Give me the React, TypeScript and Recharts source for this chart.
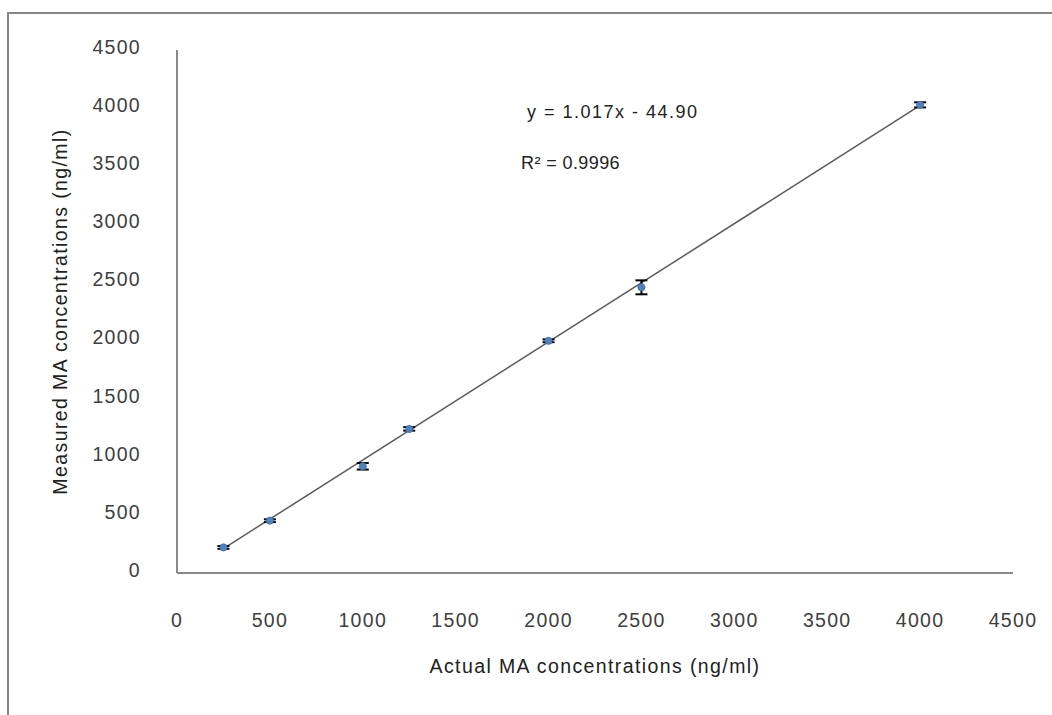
import { ScatterChart, Scatter, XAxis, YAxis, ErrorBar, ReferenceLine } from "recharts";

// measured vs actual MA concentrations (ng/ml)
const actual = [250, 500, 1000, 1250, 2000, 2500, 4000];
const measured = [220, 450, 918, 1240, 1998, 2458, 4028];
const stdDev = [12, 12, 28, 15, 12, 60, 22];

const xTicks = [0, 500, 1000, 1500, 2000, 2500, 3000, 3500, 4000, 4500];
const yTicks = [0, 500, 1000, 1500, 2000, 2500, 3000, 3500, 4000, 4500];

// linear trendline y = 1.017x - 44.90, drawn over the data range
const trendStart = { x: 250, y: 209.4 };
const trendEnd = { x: 4000, y: 4023.1 };

const points = actual.map((x, i) => ({ x, y: measured[i], err: stdDev[i] }));

const font = "'Liberation Sans', Arial, sans-serif";
const textColor = "#404040";
const axisColor = "#8a8a8a";

const tickStyle = { fill: textColor, fontSize: 19.5, fontFamily: font, letterSpacing: 1.3 };

const YTick = (props: any) => {
  const { x, y, payload } = props;
  return (
    <text x={x} y={y - 3} dy="0.355em" textAnchor="end" {...tickStyle}>
      {payload.value}
    </text>
  );
};

const Marker = (props: any) => {
  const { cx, cy } = props;
  return <circle cx={cx} cy={cy} r={3.6} fill="#4f81bd" stroke="#3d6fa8" strokeWidth={0.8} />;
};

export default function App() {
  return (
    <div style={{ position: "fixed", inset: 0, overflow: "hidden", background: "#fff" }}>
      <div
        style={{
          position: "absolute",
          left: 7,
          top: 12,
          width: 1100,
          height: 800,
          border: "2px solid #868686",
        }}
      />
      <div style={{ position: "absolute", left: 0, top: 0 }}>
        <ScatterChart width={1052} height={715} margin={{ top: 50, right: 39, bottom: 82, left: 0 }}>
          <XAxis
            type="number"
            dataKey="x"
            domain={[0, 4500]}
            ticks={xTicks}
            interval={0}
            height={60}
            tickLine={false}
            tickMargin={34}
            stroke={axisColor}
            strokeWidth={2}
            tick={tickStyle}
            label={{
              value: "Actual MA concentrations (ng/ml)",
              position: "bottom",
              offset: 26,
              style: { fill: "#222", fontSize: 19.5, fontFamily: font, letterSpacing: 1.4 },
            }}
          />
          <YAxis
            type="number"
            dataKey="y"
            domain={[0, 4500]}
            ticks={yTicks}
            interval={0}
            width={177}
            tickLine={false}
            tickMargin={30}
            stroke={axisColor}
            strokeWidth={2}
            tick={<YTick />}
            label={{
              value: "Measured MA concentrations (ng/ml)",
              angle: -90,
              position: "insideLeft",
              offset: 60,
              style: { textAnchor: "middle", fill: "#222", fontSize: 19.5, fontFamily: font, letterSpacing: 1.4 },
            }}
          />
          <ReferenceLine
            segment={[trendStart, trendEnd]}
            stroke="#5a5a5a"
            strokeWidth={1.5}
            ifOverflow="visible"
          />
          <Scatter data={points} fill="#4f81bd" isAnimationActive={false} shape={<Marker />}>
            <ErrorBar dataKey="err" direction="y" width={6} stroke="#000" strokeWidth={2} isAnimationActive={false} />
          </Scatter>
        </ScatterChart>
      </div>
      <div
        style={{
          position: "absolute",
          left: 527,
          top: 102,
          fontFamily: font,
          fontSize: 18,
          letterSpacing: 1.5,
          color: "#222",
          whiteSpace: "nowrap",
        }}
      >
        y = 1.017x - 44.90
      </div>
      <div
        style={{
          position: "absolute",
          left: 521,
          top: 153,
          fontFamily: font,
          fontSize: 18,
          letterSpacing: 0.4,
          color: "#222",
          whiteSpace: "nowrap",
        }}
      >
        R² = 0.9996
      </div>
    </div>
  );
}
